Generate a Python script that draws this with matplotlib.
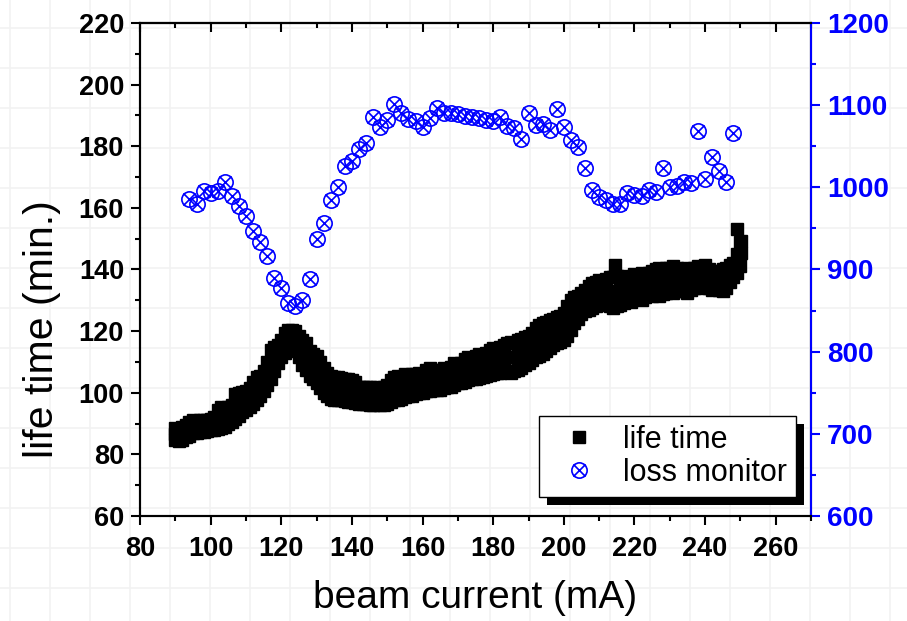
#!/usr/bin/env python

import matplotlib
matplotlib.use("Agg")
import matplotlib.pyplot as plt
from matplotlib.path import Path
from matplotlib.patches import Rectangle
from matplotlib.ticker import MultipleLocator

lt_current = list(range(90, 251))
lt_high = [88.5, 88.0, 88.8, 89.5, 90.5, 91.0, 90.8, 91.2, 91.0, 91.3,
           91.5, 92.0, 94.5, 95.5, 95.2, 95.5, 96.0, 99.5, 100.0, 100.2,
           100.5, 101.5, 103.5, 105.0, 105.5, 107.0, 110.0, 114.0, 115.0, 115.5,
           117.0, 119.5, 120.5, 120.5, 120.0, 118.5, 117.0, 116.0, 113.5, 112.5,
           112.0, 110.0, 108.0, 106.5, 105.5, 105.0, 105.0, 104.8, 104.5, 104.5,
           104.0, 103.5, 102.0, 102.0, 102.0, 101.8, 101.5, 102.0, 101.5, 102.0,
           102.5, 104.0, 105.0, 105.5, 105.0, 106.0, 105.5, 106.0, 106.0, 106.5,
           106.0, 107.5, 108.0, 107.5, 106.5, 107.5, 108.0, 107.5, 108.5, 109.5,
           109.0, 109.5, 111.0, 111.5, 111.0, 112.0, 112.5, 112.0, 113.0, 114.0,
           114.5, 114.0, 115.0, 115.5, 116.0, 116.5, 116.0, 117.0, 117.5, 118.0,
           118.5, 119.5, 121.0, 122.0, 122.5, 123.0, 123.5, 124.0, 124.5, 125.0,
           126.0, 128.0, 130.0, 131.0, 131.5, 132.5, 133.5, 134.5, 135.5, 136.0,
           136.5, 136.0, 137.0, 137.5, 137.5, 138.0, 137.0, 137.5, 138.0, 137.5,
           138.5, 138.0, 139.0, 138.5, 139.0, 139.5, 140.0, 140.5, 139.5, 140.5,
           140.5, 141.0, 140.5, 140.0, 140.0, 140.5, 140.0, 140.5, 141.0, 140.5,
           141.5, 140.0, 139.5, 139.0, 139.5, 140.0, 140.5, 141.5, 142.0, 145.0,
           149.0]
lt_mid = [86.5, 86.0, 86.8, 87.5, 88.0, 89.0, 89.0, 89.5, 89.0, 89.6,
          89.8, 90.0, 91.2, 92.0, 92.0, 92.5, 93.5, 95.5, 96.0, 97.0,
          97.5, 98.5, 100.0, 101.0, 102.0, 103.8, 106.0, 109.0, 111.0, 112.5,
          114.0, 116.0, 117.0, 117.5, 117.0, 115.0, 113.0, 112.0, 109.5, 108.5,
          107.5, 105.5, 104.0, 102.5, 101.5, 101.5, 101.0, 101.0, 100.8, 100.5,
          100.5, 100.0, 99.0, 99.0, 99.0, 98.8, 98.5, 99.0, 98.8, 99.0,
          99.5, 100.5, 101.0, 101.5, 101.5, 102.0, 102.0, 102.5, 102.8, 103.0,
          103.0, 104.0, 104.0, 104.0, 103.5, 104.2, 104.8, 104.5, 105.0, 106.0,
          106.0, 106.2, 107.0, 107.8, 107.5, 108.2, 108.5, 108.5, 109.2, 110.0,
          110.0, 110.2, 110.8, 111.0, 111.5, 111.5, 111.5, 112.2, 112.8, 113.5,
          114.0, 115.0, 116.0, 117.0, 117.5, 118.2, 119.0, 119.8, 120.2, 120.8,
          121.5, 123.2, 125.2, 126.8, 127.8, 129.0, 130.0, 130.8, 131.5, 132.0,
          132.5, 132.8, 133.0, 132.8, 132.5, 133.0, 132.8, 133.2, 134.0, 133.5,
          134.5, 134.8, 134.5, 134.8, 135.5, 135.5, 136.0, 136.0, 135.8, 136.5,
          136.8, 136.8, 136.8, 136.8, 136.5, 136.5, 136.8, 137.2, 137.8, 137.2,
          138.0, 137.0, 136.5, 136.5, 136.5, 136.5, 137.2, 138.8, 139.8, 142.0,
          145.0]
lt_low = [84.5, 84.3, 84.8, 85.5, 86.0, 86.8, 87.0, 87.2, 87.4, 87.6,
          87.8, 88.0, 88.2, 88.6, 89.0, 89.8, 90.6, 91.5, 92.5, 93.6,
          94.5, 95.5, 96.5, 97.5, 98.8, 100.5, 102.5, 104.5, 107.0, 109.5,
          111.5, 113.0, 114.0, 114.5, 113.5, 111.5, 109.0, 107.5, 105.5, 104.5,
          103.0, 101.5, 100.0, 99.0, 98.0, 97.8, 97.5, 97.5, 97.2, 97.0,
          97.0, 96.8, 96.5, 96.3, 96.2, 96.0, 96.0, 96.2, 96.0, 96.0,
          96.5, 97.0, 97.5, 97.5, 98.0, 98.5, 99.0, 99.0, 99.5, 99.8,
          100.0, 100.5, 100.5, 101.0, 100.8, 101.0, 101.5, 102.0, 101.8, 102.5,
          103.0, 103.0, 103.5, 104.0, 104.5, 104.5, 104.8, 105.0, 105.5, 105.8,
          106.0, 106.5, 106.5, 106.8, 107.0, 106.5, 107.0, 107.5, 108.0, 109.0,
          109.5, 110.5, 111.5, 112.0, 112.5, 113.5, 114.5, 115.5, 116.0, 116.5,
          117.0, 118.5, 120.5, 122.5, 124.0, 125.5, 126.5, 127.0, 127.5, 128.0,
          128.5, 129.5, 129.0, 128.0, 127.5, 128.0, 128.5, 129.0, 130.0, 129.5,
          130.5, 131.5, 130.0, 131.0, 132.0, 131.5, 132.0, 131.5, 132.0, 132.5,
          133.0, 132.5, 133.0, 133.5, 133.0, 132.5, 133.5, 134.0, 134.5, 134.0,
          134.5, 134.0, 133.5, 134.0, 133.5, 133.0, 134.0, 136.0, 137.5, 139.0,
          141.0]
# a few stray points
lt_extra_current = [214.5, 248.9, 250.3, 250.1]
lt_extra = [141.5, 153.0, 149.4, 145.3]

# loss monitor (right axis)
lm_current = [94, 96, 98, 100, 102, 104, 106, 108, 110, 112,
              114, 116, 118, 120, 122, 124, 126, 128, 130, 132,
              134, 136, 138, 140, 142, 144, 146, 148, 150, 152,
              154, 156, 158, 160, 162, 164, 166, 168, 170, 172,
              174, 176, 178, 180, 182, 184, 186, 188, 190, 192,
              194, 196, 198, 200, 202, 204, 206, 208, 210, 212,
              214, 216, 218, 220, 222, 224, 226, 228, 230, 232,
              234, 236, 238, 240, 242, 244, 246, 248]
lm_value = [986, 980, 995, 993, 996, 1007, 989, 977, 965, 947,
            934, 916, 890, 878, 859, 855, 863, 888, 937, 957,
            984, 1000, 1026, 1032, 1047, 1054, 1085, 1073, 1082, 1101,
            1090, 1083, 1081, 1073, 1084, 1097, 1090, 1090, 1089, 1087,
            1086, 1084, 1082, 1081, 1086, 1075, 1072, 1059, 1091, 1076,
            1077, 1070, 1095, 1074, 1058, 1049, 1023, 997, 988, 985,
            980, 980, 993, 991, 989, 997, 994, 1024, 1000, 1001,
            1006, 1005, 1069, 1010, 1037, 1020, 1006, 1066]

BLUE = "#0000ff"
plt.rcParams["font.family"] = ["Liberation Sans", "DejaVu Sans"]

# circle with a cross marker
a = 0.78
circ_x = Path.make_compound_path(
    Path.unit_circle(),
    Path([(-a, -a), (a, a)], [Path.MOVETO, Path.LINETO]),
    Path([(-a, a), (a, -a)], [Path.MOVETO, Path.LINETO]))

fig = plt.figure(figsize=(9.07, 6.21), dpi=100)

# faint page grid behind everything
for gx in range(10, 907, 40):
    fig.add_artist(plt.Line2D([gx / 907, gx / 907], [0, 1], color="#f2f2f2",
                              lw=1.2, zorder=-5))
for gy in range(28, 621, 40):
    fig.add_artist(plt.Line2D([0, 1], [1 - gy / 621, 1 - gy / 621], color="#f2f2f2",
                              lw=1.2, zorder=-5))

ax = fig.add_axes([0.1544, 0.1691, 0.7398, 0.7939])
ax.set_facecolor("none")
ax2 = ax.twinx()

sq = dict(ls="none", marker="s", ms=8.5, color="black", mec="black")
ax.plot(lt_current, lt_high, **sq)
ax.plot(lt_current, lt_low, **sq)
ax.plot(lt_current, lt_mid, **sq)
ax.plot(lt_extra_current, lt_extra, **sq)
h1, = ax.plot([], [], label="life time", **sq)

h2, = ax2.plot(lm_current, lm_value, ls="none", marker=circ_x, ms=11,
               mfc="none", mec=BLUE, mew=1.2, label="loss monitor")

ax.set_xlim(80, 270)
ax.set_ylim(60, 220)
ax2.set_ylim(600, 1200)

ax.xaxis.set_major_locator(MultipleLocator(20))
ax.xaxis.set_minor_locator(MultipleLocator(10))
ax.yaxis.set_major_locator(MultipleLocator(20))
ax.yaxis.set_minor_locator(MultipleLocator(10))
ax2.yaxis.set_major_locator(MultipleLocator(100))
ax2.yaxis.set_minor_locator(MultipleLocator(50))

for sp in ax.spines.values():
    sp.set_linewidth(1.5)
for sp in ax2.spines.values():
    sp.set_linewidth(1.5)
ax2.spines["right"].set_color(BLUE)

ax.tick_params(which="both", direction="out", width=1.5, labelsize=19.5)
ax.tick_params(which="major", length=6.5)
ax.tick_params(which="minor", length=3.5)
ax.tick_params(axis="x", pad=8)
ax.tick_params(axis="y", pad=5)
ax2.tick_params(which="both", direction="out", width=1.5, colors=BLUE, labelsize=20, pad=5)
ax2.tick_params(which="major", length=6.5)
ax2.tick_params(which="minor", length=3.5)

top = ax.secondary_xaxis("top")
top.xaxis.set_major_locator(MultipleLocator(20))
top.xaxis.set_minor_locator(MultipleLocator(10))
top.tick_params(which="both", direction="in", width=1.5, labeltop=False)
top.tick_params(which="major", length=6.5)
top.tick_params(which="minor", length=3.5)
top.spines["top"].set_linewidth(1.5)

for lab in ax.get_xticklabels() + ax.get_yticklabels() + ax2.get_yticklabels():
    lab.set_fontweight("bold")

ax.set_xlabel("beam current (mA)", fontsize=28, labelpad=13)
ax.set_ylabel("life time (min.)", fontsize=29.5)
ax.yaxis.set_label_coords(-0.118, 0.38)

leg = ax2.legend([h1, h2], ["life time", "loss monitor"], loc="lower right",
                 bbox_to_anchor=(0.9776, 0.0385), borderaxespad=0, fontsize=22,
                 fancybox=False, edgecolor="black", framealpha=1,
                 handlelength=2.0, handletextpad=0.44, labelspacing=0.1,
                 borderpad=0.3)
leg.get_frame().set_linewidth(1.0)

# hard drop shadow like the original
fig.canvas.draw()
bb = leg.get_window_extent()
ax2.add_patch(Rectangle((bb.x0 + 8, bb.y0 - 8), bb.width, bb.height,
                        transform=None, facecolor="black", edgecolor="none",
                        zorder=4.9, clip_on=False))

fig.savefig("out.png", dpi=100)
